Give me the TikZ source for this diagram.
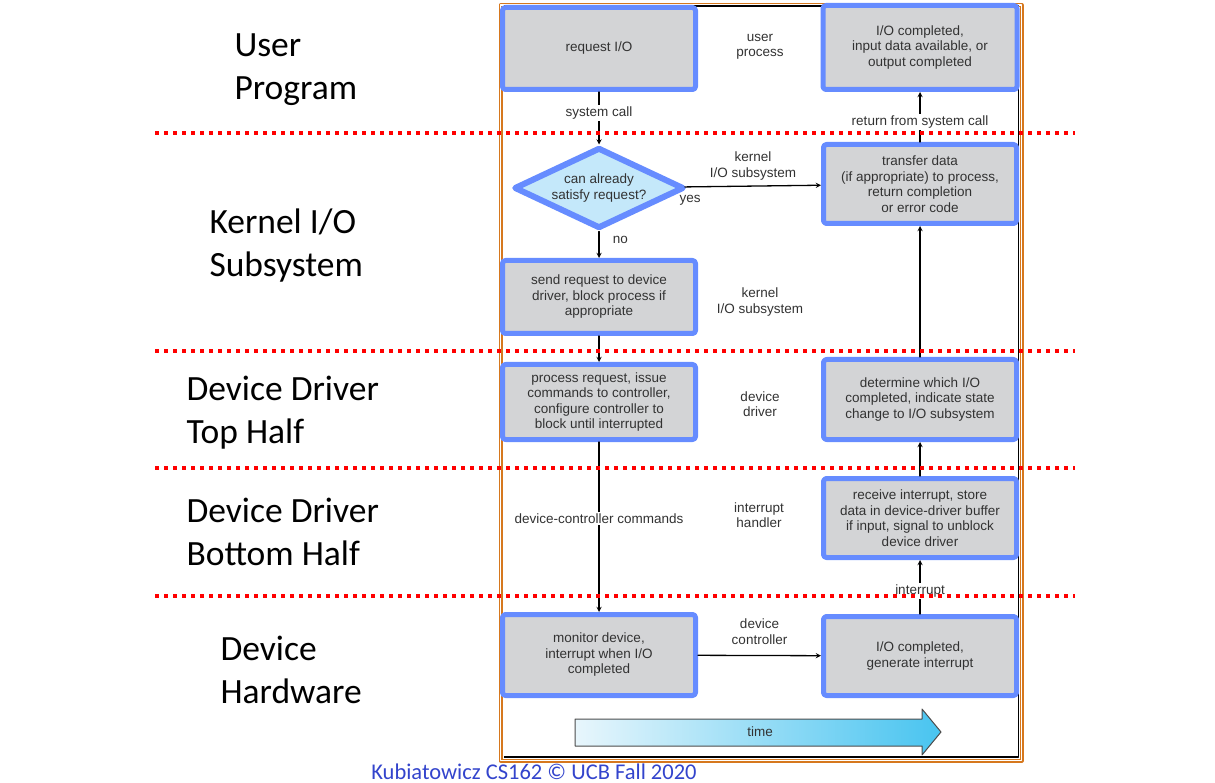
\documentclass[tikz,border=0pt]{standalone}
\usepackage{fontspec}
\setmainfont{Liberation Sans}
\newfontfamily\slidefont{Carlito}
\usetikzlibrary{shapes.geometric}
\definecolor{boxblue}{RGB}{102,140,255}
\definecolor{boxgray}{RGB}{211,212,214}
\definecolor{askblue}{RGB}{196,232,250}
\definecolor{framebrown}{RGB}{214,120,30}
\definecolor{txtgray}{RGB}{50,50,50}
\definecolor{footblue}{RGB}{51,68,204}
\definecolor{timeL}{RGB}{232,246,252}
\definecolor{timeR}{RGB}{72,196,240}
\begin{document}
\begin{tikzpicture}[line join=round, line cap=round,>=stealth, x=1pt, y=-1pt]
	\tikzset{every node/.style={text=txtgray, font=\fontsize{13.5}{15.5}\selectfont, align=center}}
	\tikzset{stepbox/.style={draw=boxblue, line width=5pt, fill=boxgray, rounded corners=3pt, minimum width=193pt, inner sep=0pt}}
	\tikzset{ask/.style={diamond, draw=boxblue, line width=6pt, fill=askblue, shape aspect=2, minimum width=170pt, minimum height=81pt, inner sep=0pt}}
	\tikzset{conn/.style={->, line width=1.3pt, black}}
	\tikzset{onwire/.style={fill=white, inner sep=1.5pt}}
	\tikzset{layer/.style={draw=red, line width=4pt, line cap=butt, dash pattern=on 4pt off 5pt}}
	\tikzset{layername/.style={anchor=west, align=left, text=black, font=\slidefont\fontsize{35.5}{43}\selectfont}}
	\useasboundingbox (0,0) rectangle (1215,783);
	\draw[framebrown, line width=1.2pt, double=white, double distance=1.6pt] (500.5,5) rectangle (1021.5,760.5);
	\draw[line width=1.3pt, line cap=butt] (504,6) -- (1018.5,6) -- (1018.5,757) -- (504,757);
	\node[stepbox, minimum height=82pt] (req) at (599,48.5) {request I/O};
	\node[stepbox, minimum height=84pt, minimum width=194pt] (done) at (920,47.5) {I/O completed,\\input data available, or\\output completed};
	\node[ask] (chk) at (599,188) {can already\\satisfy request?};
	\node[stepbox, minimum height=73pt] (send) at (599,297) {send request to device\\driver, block process if\\appropriate};
	\node[stepbox, minimum height=75pt] (proc) at (599,402) {process request, issue\\commands to controller,\\configure controller to\\block until interrupted};
	\node[stepbox, minimum height=81pt] (mon) at (599,655) {monitor device,\\interrupt when I/O\\completed};
	\node[stepbox, minimum height=79pt] (gen) at (920,656) {I/O completed,\\generate interrupt};
	\node[stepbox, minimum height=79pt] (recv) at (920,518) {receive interrupt, store\\data in device-driver buffer\\if input, signal to unblock\\device driver};
	\node[stepbox, minimum height=80pt] (det) at (920,399.5) {determine which I/O\\completed, indicate state\\change to I/O subsystem};
	\node[stepbox, minimum height=79pt] (xfer) at (920,184) {transfer data\\(if appropriate) to process,\\return completion\\or error code};
	\draw[conn] (req) -- node[onwire, pos=0.4] (sysc) {system call} (chk);
	\draw[conn] (chk) -- node[above=2pt] (kio1) {kernel\\I/O subsystem} (xfer);
	\node (yes) at (690,200) {yes};
	\draw[conn] (chk) -- node[right=10pt, pos=0.3] (no) {no} (send);
	\draw[conn] (send) -- (proc);
	\draw[conn] (proc) -- node[onwire, pos=0.45] (dcc) {device-controller commands} (mon);
	\draw[conn] (mon) -- node[above=7pt] (dctl) {device\\controller} (gen);
	\draw[conn] (gen) -- node[onwire, pos=0.43] (intr) {interrupt} (recv);
	\draw[conn] (recv) -- (det);
	\draw[conn] (det) -- (xfer);
	\draw[conn] (xfer) -- node[onwire, pos=0.4] (ret) {return from system call} (done);
	\node (usr) at (760,47) {user\\process};
	\node (kio2) at (760,302) {kernel\\I/O subsystem};
	\node (drv) at (760,404) {device\\driver};
	\node (hnd) at (759,515) {interrupt\\handler};
	\shade[left color=timeL, right color=timeR, draw=black!70, line width=1pt] (575,719) -- (922,719) -- (922,709) -- (941,732) -- (922,755) -- (922,746) -- (575,746) -- cycle;
	\node (time) at (760,732) {time};
	\foreach \y in {133,351,468,596}
		\draw[layer] (155,\y) -- (1075,\y);
	\node[layername] (lusr) at (231,69.5) {User\\Program};
	\node[layername] (lkio) at (206,246) {Kernel I/O\\Subsystem};
	\node[layername] (ltop) at (183,412.5) {Device Driver\\Top Half};
	\node[layername] (lbot) at (183,531.5) {Device Driver\\Bottom Half};
	\node[layername] (lhw) at (217,669.5) {Device\\Hardware};
	\node[text=footblue, font=\slidefont\fontsize{22.5}{27}\selectfont] (credit) at (534,772) {Kubiatowicz CS162 © UCB Fall 2020};
\end{tikzpicture}
\end{document}
